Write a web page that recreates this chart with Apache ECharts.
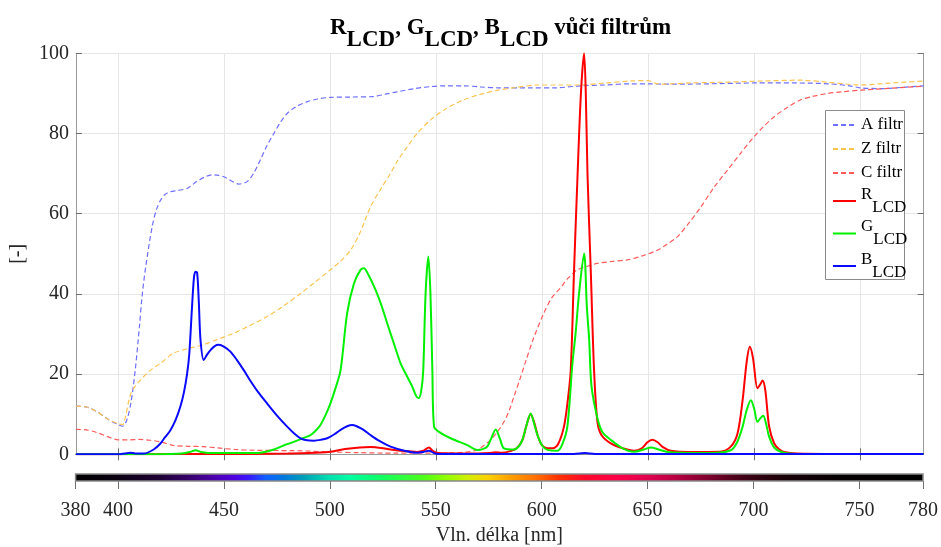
<!DOCTYPE html>
<html><head><meta charset="utf-8">
<script src="https://cdn.jsdelivr.net/npm/echarts@6/dist/echarts.min.js"></script>
<style>html,body{margin:0;padding:0;background:#fff}#c{width:941px;height:547px}</style>
</head><body><div id="c"></div>
<script>
// ---- data ----
const xGridTicks = [400, 450, 500, 550, 600, 650, 700, 750];
const xTickLabels = [380, 400, 450, 500, 550, 600, 650, 700, 750, 780];
const yTicks = [0, 20, 40, 60, 80, 100];

const aFiltr = [[380,12.0],[385,11.8],[390,10.6],[395,8.8],[400,7.4],[402,7.0],[404,8.5],[406,13],[408,21],[410,32],[411.2,39.3],[413,47],[416,56.8],[418,61],[420,63.4],[422,64.8],[424.6,65.5],[428,65.8],[432.5,66.3],[437,68],[441,69.2],[444.3,69.7],[447,69.6],[449.8,69.2],[453,68.3],[456.8,67.4],[460.8,68],[464,70.2],[467,73.4],[470,76.8],[473.4,80],[476.5,82.8],[479.7,85],[484,86.7],[489,87.9],[494,88.6],[500,89],[510,89.1],[520,89.2],[526,89.8],[531.6,90.4],[540,91.2],[547.4,91.7],[555,91.9],[563,91.9],[571,91.6],[579,91.4],[594,91.4],[607,91.4],[612,91.6],[618,91.9],[630,92.1],[642,92.4],[650,92.4],[660,92.3],[680,92.4],[700,92.6],[720,92.6],[735,92.4],[745,91.9],[750,91.4],[760,91.2],[770,91.5],[780,91.9]];
const zFiltr = [[380,12.0],[385,11.8],[390,10.6],[395,8.8],[400,7.6],[402,7.4],[403,8.5],[405.7,14.8],[408,17],[412,19.4],[416,21.3],[420,22.7],[426,25.2],[433,26.4],[440,27.3],[447,28.7],[454.5,30.2],[462,32.1],[470,34.3],[478,37],[486,40.1],[493,43],[500,46],[505,48.2],[509.6,50.9],[514,55.2],[519,61.7],[524,66.3],[528.5,70.1],[532,73.4],[536.4,76.7],[541,80],[547.4,83.4],[555,86.3],[563,88.4],[571,89.8],[579,90.8],[588,91.5],[598,92.1],[608,92.1],[618,92.1],[630,92.6],[642,93.1],[650,93.2],[653,92.6],[656,92.3],[670,92.6],[687,92.8],[705,93.1],[722,93.3],[735,92.8],[750,92.1],[765,92.6],[780,93.1]];
const cFiltr = [[380,6.2],[385,6.1],[390,5.4],[395,4.4],[400,3.6],[405,3.6],[410,3.7],[415,3.5],[420,3.1],[426,2.2],[433,2.0],[440,1.9],[447,1.6],[455,1.2],[465,1.0],[483,0.9],[500,0.6],[514,0.4],[530,0.3],[550,0.3],[560,0.4],[565,0.6],[569.4,1.1],[572.5,2.2],[575.7,3.6],[579,5.7],[582,8.1],[584.5,11],[586.7,14.4],[589.5,18.7],[592.2,23.1],[596,29],[600.8,35.2],[604.5,39],[608.8,41.6],[612,43.8],[616.6,46],[621.4,46.9],[626,47.6],[633,48.1],[640.3,48.5],[648,49.6],[654.4,50.9],[659,52.4],[663.9,54.3],[669,57.5],[674.9,61.7],[681,66.5],[687.5,70.9],[694,75.3],[700,79.2],[705,82],[709.5,84.2],[716,86.6],[722,88.4],[728,89.3],[734.7,90],[742,90.4],[750.4,90.8],[765,91.3],[780,91.8]];
const rLcd = [[380,0],[400,0],[420,0],[440,0.1],[460,0.1],[480,0.2],[490,0.3],[500,0.65],[507,1.3],[514,1.7],[519,1.8],[524,1.6],[528.5,1.2],[535,0.8],[541,0.6],[544,0.9],[546.6,1.7],[548.5,0.8],[551,0.3],[560,0.2],[570,0.2],[575,0.3],[578,0.5],[581,0.4],[585,0.8],[588,1.5],[590.7,3.6],[592.5,7],[594.6,10],[596.5,7.5],[598,4.5],[600,2.2],[602.5,1.5],[605,1.5],[607.5,2.5],[610.3,6.9],[612,13],[613.5,21],[615,45],[616.6,68],[618.3,90],[619.8,100],[620.6,90],[621.4,70],[623,45],[624.5,21],[626.1,8],[628,4.8],[632.4,2.7],[638,1.5],[643.4,0.9],[647,1.5],[649.7,3],[652,3.6],[654.5,3],[657,1.8],[660.7,0.9],[670,0.6],[684,0.65],[689,1.9],[692.2,5.2],[694.6,13.5],[696.5,23],[698,26.8],[699.5,24],[701.6,16.5],[703,17.5],[704,18.4],[705.3,16],[707.1,7],[709.5,2.7],[712,1.2],[714.2,0.6],[720,0.2],[740,0.1],[780,0.1]];
const gLcd = [[380,0],[400,0],[420,0],[430,0.2],[434,0.6],[436.5,1.0],[439,0.6],[445,0.3],[460,0.3],[467,0.4],[473.4,1.2],[478,2.2],[482.8,3.1],[487,4],[490.7,4.8],[493,5.8],[495.4,7.3],[498,10],[500.1,12.7],[502.5,16.5],[504.9,21],[508,35.2],[511.2,42.6],[514.3,46],[515.9,46.4],[518,44.8],[521,41.5],[523.8,37.7],[527,32.5],[530,27.7],[533.2,22.7],[536,19.7],[538.7,16.9],[540.5,14.6],[541.8,14],[543,16],[543.9,21],[545,40],[546.3,49.3],[547.3,40],[548.2,21],[549,6.9],[551.3,5.6],[556.8,4],[564.7,2.3],[569.4,1.1],[572,1.3],[574.1,1.9],[576,4],[578.1,6.2],[580,4],[582,1.5],[586.7,1.2],[589,2],[590.7,3.6],[592.5,7],[594.6,10.2],[596.3,7.5],[597.8,4.8],[600,2.2],[602.5,1.1],[607.2,0.9],[609.5,2.5],[611.9,6.9],[614.3,22.7],[615.8,30.2],[617.4,40],[619.8,50.1],[621.1,36.8],[622.2,28.5],[623.3,17],[626.1,9],[628.5,5.5],[632.4,3.6],[638,1.5],[643.4,0.65],[648,1.2],[651.3,1.7],[655,1.2],[660,0.5],[680,0.3],[689,1.0],[692,3],[694.6,6.9],[696.5,11],[698.5,13.5],[700,11.5],[701.6,8.1],[703,9],[704.3,9.6],[705.5,8],[707.1,4.4],[709.5,1.7],[714,0.4],[720,0.1],[780,0.1]];
const bLcd = [[380,0],[400,0],[403,0.2],[405.7,0.4],[408,0.2],[412,0.2],[416.7,1.2],[419.9,2.7],[422,4.2],[424.6,6],[427,8.5],[429.3,11.9],[431,15.5],[432.5,20.2],[433.5,25],[434.8,36.8],[435.7,44],[436.4,45.5],[437.2,45.3],[438,38],[438.8,28.5],[440.3,23.5],[441.8,24.8],[443.5,26],[445.5,27],[447.4,27.3],[450,26.8],[452.9,25.6],[456,23.5],[459.2,21],[462,18.6],[466,15.5],[470.2,12.7],[475,9.6],[479.7,6.9],[483,5.2],[486,4],[489,3.5],[492.3,3.4],[495.5,3.6],[498.6,4],[502,5],[504.9,6.1],[508,7],[510.4,7.3],[512.5,7],[514.3,6.5],[517,5.6],[519,4.8],[523,3.4],[528.5,1.9],[535,0.9],[541,0.4],[544,0.6],[546.6,0.9],[549,0.3],[551,0.1],[600,0.1],[615,0.1],[620,0.3],[625,0.1],[700,0.1],[780,0.1]];

// spectrum colour bar stops
const spectrumNm = [380,400,420,435,445,455,462,470,478,488,500,510,525,545,555,565,575,585,597,608,620,635,650,665,680,695,715,740,780];
const spectrumColor = ['#000000','#0a0012','#1e0035','#380070','#4a00a8','#5000e0','#3a18ff','#1060ff','#0078e0','#00a0b8','#00e0b0','#00ffa0','#10ff60','#50ff18','#90ff00','#d0f000','#ffd000','#ffa000','#ff7000','#ff3000','#ff0a2a','#ff0048','#e0004e','#b00040','#78002a','#400015','#180007','#050002','#000000'];
const colorbarSpan = [[380, 780]];

// ---- chart ----
const FONT = 'Liberation Serif, Times New Roman, serif';
const chart = echarts.init(document.getElementById('c'), null, {renderer: 'canvas'});
const L = 75.6, R = 17.4;
const axisGray = '#9a9a9a', tickGray = '#707070';

function dashed(name, data, color) {
  return {name, type: 'line', data, xAxisIndex: 0, yAxisIndex: 0, symbol: 'none', showSymbol: false,
    smooth: 0.3, lineStyle: {color, width: 1.2, type: [5, 3]}, itemStyle: {color}, z: 2};
}
function solid(name, data, color) {
  return {name, type: 'line', data, xAxisIndex: 0, yAxisIndex: 0, symbol: 'none', showSymbol: false,
    smooth: 0.3, lineStyle: {color, width: 2}, itemStyle: {color}, z: 3};
}

const stops = spectrumNm.map((nm, i) => ({offset: (nm - 380) / 400, color: spectrumColor[i]}));

const option = {
  animation: false,
  backgroundColor: '#fff',
  title: {
    left: 325, top: 12,
    text: '{m|R}{s|LCD}{m|, G}{s|LCD}{m|, B}{s|LCD}{m| vůči filtrům}{z|\u200a}',
    textStyle: {
      fontFamily: FONT, fontSize: 23, fontWeight: 'bold',
      rich: {
        m: {fontFamily: FONT, fontSize: 23, fontWeight: 'bold', color: '#000', lineHeight: 24, verticalAlign: 'top'},
        s: {fontFamily: FONT, fontSize: 23, fontWeight: 'bold', color: '#000', lineHeight: 24, verticalAlign: 'bottom'},
        z: {fontFamily: FONT, fontSize: 23, fontWeight: 'bold', lineHeight: 35}
      }
    }
  },
  grid: [
    {left: L, right: R, top: 53.3, height: 401},
    {left: L, right: R, top: 474, height: 11}
  ],
  xAxis: [
    {type: 'value', gridIndex: 0, min: 380, max: 780, position: 'bottom',
      axisLine: {show: true, lineStyle: {color: axisGray}},
      axisTick: {show: true, inside: true, length: 6, customValues: xGridTicks, lineStyle: {color: tickGray}},
      axisLabel: {show: false},
      splitLine: {show: true, lineStyle: {color: '#e6e6e6'}}},
    {type: 'value', gridIndex: 0, min: 380, max: 780, position: 'top',
      axisLine: {show: true, lineStyle: {color: axisGray}},
      axisTick: {show: true, inside: true, length: 6, customValues: xGridTicks, lineStyle: {color: tickGray}},
      axisLabel: {show: false}, splitLine: {show: false}},
    {type: 'value', gridIndex: 1, min: 380, max: 780, position: 'bottom',
      name: 'Vln. délka [nm]', nameLocation: 'middle', nameGap: 45,
      nameTextStyle: {fontFamily: FONT, fontSize: 20, color: '#262626'},
      axisLine: {show: false},
      axisTick: {show: true, inside: false, length: 8, customValues: xTickLabels, lineStyle: {color: tickGray}},
      axisLabel: {show: true, margin: 20, customValues: xTickLabels, fontFamily: FONT, fontSize: 20, color: '#262626'},
      splitLine: {show: false}}
  ],
  yAxis: [
    {type: 'value', gridIndex: 0, min: 0, max: 100, interval: 20, position: 'left',
      name: '[-]', nameLocation: 'middle', nameGap: 45,
      nameTextStyle: {fontFamily: FONT, fontSize: 20, color: '#262626'},
      axisLine: {show: true, lineStyle: {color: axisGray}},
      axisTick: {show: true, inside: true, length: 6, lineStyle: {color: tickGray}},
      axisLabel: {show: true, margin: 7, fontFamily: FONT, fontSize: 20, color: '#262626'},
      splitLine: {show: true, lineStyle: {color: '#e6e6e6'}}},
    {type: 'value', gridIndex: 0, min: 0, max: 100, interval: 20, position: 'right',
      axisLine: {show: true, lineStyle: {color: axisGray}},
      axisTick: {show: true, inside: true, length: 6, lineStyle: {color: tickGray}},
      axisLabel: {show: false}, splitLine: {show: false}},
    {type: 'value', gridIndex: 1, min: 0, max: 1, show: false}
  ],
  legend: [
    {orient: 'vertical', left: 827, top: 110, itemWidth: 23, itemHeight: 14, itemGap: 4,
      itemStyle: {opacity: 0},
      data: ['A filtr', 'Z filtr', 'C filtr'],
      textStyle: {fontFamily: FONT, fontSize: 17, color: '#000', lineHeight: 20}},
    {orient: 'vertical', left: 827, top: 181, itemWidth: 23, itemHeight: 14, itemGap: 2.5,
      itemStyle: {opacity: 0},
      data: ['R', 'G', 'B'],
      formatter: n => '{m|' + n + '}{s|LCD}{z|\u200a}',
      textStyle: {fontFamily: FONT, fontSize: 17, color: '#000',
        rich: {
          m: {fontFamily: FONT, fontSize: 17, color: '#000', lineHeight: 23, verticalAlign: 'top'},
          s: {fontFamily: FONT, fontSize: 17, color: '#000', lineHeight: 12, verticalAlign: 'bottom'},
          z: {fontFamily: FONT, fontSize: 17, lineHeight: 30}
        }}}
  ],
  graphic: [
    {type: 'rect', left: 825, top: 110, z: 3, silent: true,
      shape: {width: 79, height: 169}, style: {fill: '#fff', stroke: '#8a8a8a', lineWidth: 1}}
  ],
  series: [
    dashed('A filtr', aFiltr, '#6e6eff'),
    dashed('Z filtr', zFiltr, '#fcc552'),
    dashed('C filtr', cFiltr, '#ff5a5a'),
    solid('R', rLcd, '#ff0000'),
    solid('G', gLcd, '#00f000'),
    solid('B', bLcd, '#0a0aff'),
    {type: 'custom', xAxisIndex: 2, yAxisIndex: 2, data: colorbarSpan, silent: true,
      encode: {x: [0, 1]},
      renderItem: (params, api) => {
        const p0 = api.coord([api.value(0), 0]);
        const p1 = api.coord([api.value(1), 1]);
        return {type: 'rect',
          shape: {x: p0[0], y: p1[1], width: p1[0] - p0[0], height: p0[1] - p1[1]},
          style: {fill: new echarts.graphic.LinearGradient(0, 0, 1, 0, stops), stroke: '#888', lineWidth: 1.5}};
      }}
  ]
};
chart.setOption(option);
</script>
</body></html>
